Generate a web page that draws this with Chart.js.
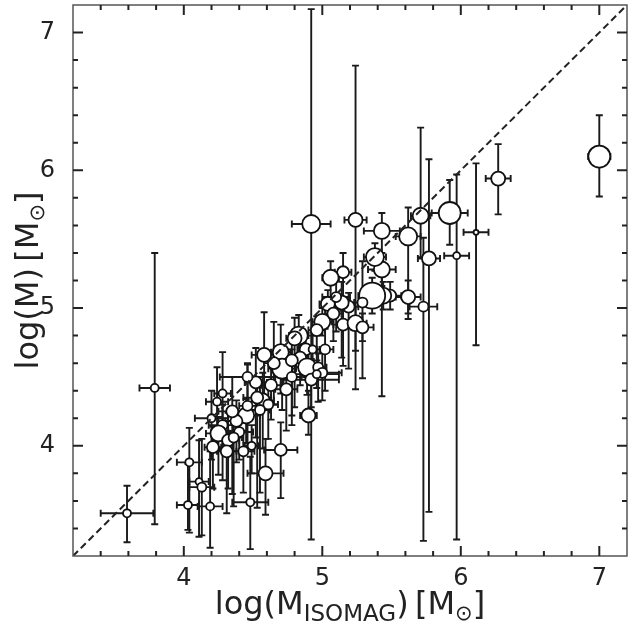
<!DOCTYPE html>
<html>
<head>
<meta charset="utf-8">
<script src="https://cdn.jsdelivr.net/npm/chart.js@4.4.0/dist/chart.umd.min.js"></script>
<style>
html, body { margin: 0; padding: 0; background: #fff; }
#wrap { width: 638px; height: 627px; }
</style>
</head>
<body>
<div id="wrap"><canvas id="chart" width="638" height="627"></canvas></div>
<script>
// log(M_ISOMAG) vs log(M)
const xVals = [7.00, 6.27, 5.92, 5.71, 5.62, 5.77, 5.97, 6.11, 4.92, 5.24,
  5.43, 5.43, 5.38, 5.62, 5.73, 5.49, 5.44, 5.36, 5.29, 5.19,
  5.14, 5.15, 5.06, 5.15, 5.24, 5.29, 5.00, 5.04, 4.96, 4.83,
  4.88, 4.93, 4.84, 4.89, 4.97, 5.00, 4.92, 4.90, 4.70, 4.58,
  4.71, 4.78, 4.63, 4.74, 4.52, 4.46, 4.57, 4.61, 4.55, 4.45,
  4.38, 4.28, 4.25, 4.32, 4.21, 4.31, 4.43, 4.20, 4.24, 4.28,
  4.04, 4.11, 4.13, 4.03, 4.19, 4.48, 4.59, 4.70, 3.59, 3.79,
  4.96, 4.46, 4.40, 4.36, 4.49, 4.80, 5.08, 5.10, 4.78, 4.65,
  4.53, 4.35, 5.02];
const yVals = [6.10, 5.94, 5.69, 5.67, 5.52, 5.36, 5.38, 5.55, 5.61, 5.64,
  5.56, 5.28, 5.37, 5.08, 5.01, 5.09, 5.09, 5.09, 5.04, 5.01,
  5.04, 5.26, 5.22, 4.88, 4.89, 4.86, 4.90, 5.03, 4.84, 4.80,
  4.70, 4.70, 4.64, 4.57, 4.57, 4.53, 4.48, 4.22, 4.68, 4.66,
  4.56, 4.62, 4.44, 4.41, 4.46, 4.50, 4.33, 4.30, 4.26, 4.22,
  4.18, 4.15, 4.09, 4.04, 3.99, 3.96, 3.96, 4.20, 4.32, 4.38,
  3.88, 3.74, 3.70, 3.57, 3.56, 3.59, 3.80, 3.97, 3.51, 4.42,
  4.52, 4.29, 4.10, 4.06, 4.00, 4.78, 4.96, 5.08, 4.50, 4.60,
  4.35, 4.25, 4.70];
const xErr = [0.08, 0.09, 0.13, 0.07, 0.09, 0.08, 0.09, 0.09, 0.14, 0.08,
  0.13, 0.10, 0.08, 0.09, 0.10, 0.08, 0.06, 0.10, 0.06, 0.07,
  0.06, 0.06, 0.06, 0.07, 0.08, 0.08, 0.07, 0.06, 0.06, 0.07,
  0.06, 0.05, 0.06, 0.08, 0.06, 0.14, 0.20, 0.06, 0.07, 0.09,
  0.10, 0.08, 0.07, 0.08, 0.08, 0.20, 0.08, 0.07, 0.07, 0.10,
  0.08, 0.10, 0.09, 0.08, 0.06, 0.07, 0.08, 0.12, 0.08, 0.06,
  0.09, 0.07, 0.09, 0.08, 0.09, 0.13, 0.13, 0.12, 0.19, 0.11,
  0.16, 0.06, 0.10, 0.06, 0.05, 0.06, 0.06, 0.10, 0.07, 0.07,
  0.10, 0.10, 0.06];
const yErrUp = [0.30, 0.25, 0.24, 0.64, 0.21, 0.72, 0.59, 0.50, 1.56, 1.12,
  0.13, 0.12, 0.10, 0.12, 0.50, 0.10, 0.10, 0.13, 0.30, 0.10,
  0.15, 0.14, 0.12, 0.10, 0.12, 0.10, 0.10, 0.10, 0.10, 0.15,
  0.12, 0.10, 0.10, 0.15, 0.10, 0.15, 0.15, 0.18, 0.20, 0.31,
  0.12, 0.15, 0.15, 0.20, 0.25, 0.10, 0.20, 0.15, 0.20, 0.12,
  0.15, 0.15, 0.12, 0.20, 0.15, 0.15, 0.15, 0.20, 0.25, 0.30,
  0.25, 0.30, 0.35, 0.30, 0.40, 0.33, 0.25, 0.20, 0.20, 0.98,
  0.10, 0.30, 0.15, 0.20, 0.15, 0.15, 0.12, 0.18, 0.20, 0.30,
  0.15, 0.25, 0.15];
const yErrDown = [0.29, 0.26, 0.23, 0.30, 0.60, 1.84, 2.06, 0.82, 2.29, 1.23,
  1.20, 0.12, 0.10, 0.12, 1.70, 0.10, 0.10, 0.13, 0.55, 0.45,
  0.40, 0.25, 0.30, 0.30, 0.20, 0.10, 0.10, 0.10, 0.25, 0.20,
  0.20, 0.15, 0.20, 0.20, 0.25, 0.20, 0.20, 0.14, 0.30, 0.30,
  0.30, 0.40, 0.25, 0.30, 0.40, 0.20, 0.35, 0.25, 0.60, 0.20,
  0.30, 0.40, 0.30, 0.35, 0.30, 0.45, 0.30, 0.30, 0.35, 0.40,
  0.51, 0.40, 0.35, 0.18, 0.30, 0.34, 0.30, 0.35, 0.21, 0.99,
  0.10, 0.30, 0.20, 0.50, 0.20, 0.50, 0.20, 0.25, 0.35, 0.30,
  0.80, 0.60, 0.30];
// relative weight of each cluster, shown as marker size
const weights = [11, 7, 11, 8, 9, 7, 3.5, 2.5, 9, 7,
  8, 8, 9, 7, 5, 6, 8, 13, 5, 6,
  7, 6, 8, 6, 8, 6, 8, 7, 6, 9,
  6, 4, 6, 9, 5, 5, 6, 7, 8, 7,
  10, 6, 6, 6, 6, 5, 7, 5, 5, 8,
  6, 5, 8, 6, 6, 6, 5, 4, 4, 4,
  4, 3.5, 4.5, 4, 4, 4, 7, 6, 4, 4,
  4, 5, 5, 5, 4, 7, 6, 5, 5, 6,
  6, 6, 5];

const axisMin = 3.2;
const axisMax = 7.2;
const majorTicks = [4, 5, 6, 7];
const oneToOne = [3.2, 7.2];

const tickValues = [];
for (let v = 3.4; v < axisMax - 0.01; v += 0.2) tickValues.push(Math.round(v * 10) / 10);

Chart.defaults.font.family = "'DejaVu Sans', sans-serif";
Chart.defaults.color = '#222';

const points = xVals.map((x, i) => ({x: x, y: yVals[i]}));

const errorBars = {
  id: 'errorBars',
  beforeDatasetsDraw(chart) {
    const {ctx, scales: {x, y}} = chart;
    const cap = 3.5;
    ctx.save();
    ctx.strokeStyle = '#1a1a1a';
    ctx.lineWidth = 1.9;
    points.forEach((p, i) => {
      const px = x.getPixelForValue(p.x), py = y.getPixelForValue(p.y);
      const xl = x.getPixelForValue(p.x - xErr[i]), xr = x.getPixelForValue(p.x + xErr[i]);
      const yt = y.getPixelForValue(p.y + yErrUp[i]), yb = y.getPixelForValue(p.y - yErrDown[i]);
      ctx.beginPath();
      ctx.moveTo(xl, py); ctx.lineTo(xr, py);
      ctx.moveTo(xl, py - cap); ctx.lineTo(xl, py + cap);
      ctx.moveTo(xr, py - cap); ctx.lineTo(xr, py + cap);
      ctx.moveTo(px, yt); ctx.lineTo(px, yb);
      ctx.moveTo(px - cap, yt); ctx.lineTo(px + cap, yt);
      ctx.moveTo(px - cap, yb); ctx.lineTo(px + cap, yb);
      ctx.stroke();
    });
    ctx.restore();
  }
};

const frameAndTitles = {
  id: 'frameAndTitles',
  afterDraw(chart) {
    const {ctx, chartArea: a, scales: {x, y}} = chart;
    ctx.save();
    ctx.strokeStyle = '#555';
    ctx.lineWidth = 1.5;
    ctx.strokeRect(a.left, a.top, a.right - a.left, a.bottom - a.top);
    ctx.strokeStyle = '#222';
    ctx.lineWidth = 2;
    ctx.beginPath();
    tickValues.forEach(v => {
      const len = majorTicks.includes(v) ? 10 : 5;
      const px = x.getPixelForValue(v), py = y.getPixelForValue(v);
      ctx.moveTo(px, a.bottom); ctx.lineTo(px, a.bottom - len);
      ctx.moveTo(px, a.top); ctx.lineTo(px, a.top + len);
      ctx.moveTo(a.left, py); ctx.lineTo(a.left + len, py);
      ctx.moveTo(a.right, py); ctx.lineTo(a.right - len, py);
    });
    ctx.stroke();

    // axis titles with subscripts
    ctx.fillStyle = '#222';
    ctx.textBaseline = 'alphabetic';
    const big = "32px 'DejaVu Sans'", small = "21px 'DejaVu Sans'";
    const drawParts = (parts, cx, cy) => {
      let w = 0;
      parts.forEach(p => { ctx.font = p[1]; w += ctx.measureText(p[0]).width; });
      let cur = cx - w / 2;
      parts.forEach(p => {
        ctx.font = p[1];
        ctx.fillText(p[0], cur, cy + p[2]);
        cur += ctx.measureText(p[0]).width;
      });
    };
    drawParts([['log(M', big, 0], ['ISOMAG', "23px 'DejaVu Sans'", 7], [')\u2009[M', big, 0], ['\u2299', small, 6], [']', big, 0]],
      (a.left + a.right) / 2, 614);
    ctx.translate(38, (a.top + a.bottom) / 2);
    ctx.rotate(-Math.PI / 2);
    drawParts([['log(M)\u2009[M', big, 0], ['\u2299', small, 6], [']', big, 0]], 0, 0);
    ctx.restore();
  }
};

new Chart(document.getElementById('chart'), {
  type: 'scatter',
  data: {
    datasets: [{
      type: 'line',
      data: oneToOne.map(v => ({x: v, y: v})),
      borderColor: '#222',
      borderWidth: 2,
      borderDash: [7, 4],
      pointRadius: 0,
      fill: false
    }, {
      data: points,
      pointRadius: weights,
      pointBackgroundColor: '#fff',
      pointBorderColor: '#111',
      pointBorderWidth: 1.8
    }]
  },
  options: {
    responsive: false,
    animation: false,
    devicePixelRatio: 1,
    layout: { autoPadding: false, padding: { top: 5, right: 11, left: 0, bottom: 0 } },
    plugins: { legend: { display: false }, tooltip: { enabled: false } },
    scales: {
      x: {
        type: 'linear', min: axisMin, max: axisMax,
        afterBuildTicks: s => { s.ticks = majorTicks.map(v => ({value: v})); },
        afterFit: s => { s.height = 71; s.paddingLeft = 0; s.paddingRight = 0; },
        grid: { display: false, drawTicks: false }, border: { display: false },
        ticks: { font: { size: 24 }, color: '#222', padding: 8 }
      },
      y: {
        type: 'linear', min: axisMin, max: axisMax,
        afterBuildTicks: s => { s.ticks = majorTicks.map(v => ({value: v})); },
        afterFit: s => { s.width = 73; s.paddingTop = 0; s.paddingBottom = 0; },
        grid: { display: false, drawTicks: false }, border: { display: false },
        ticks: { font: { size: 24 }, color: '#222', padding: 18 }
      }
    }
  },
  plugins: [errorBars, frameAndTitles]
});
</script>
</body>
</html>
